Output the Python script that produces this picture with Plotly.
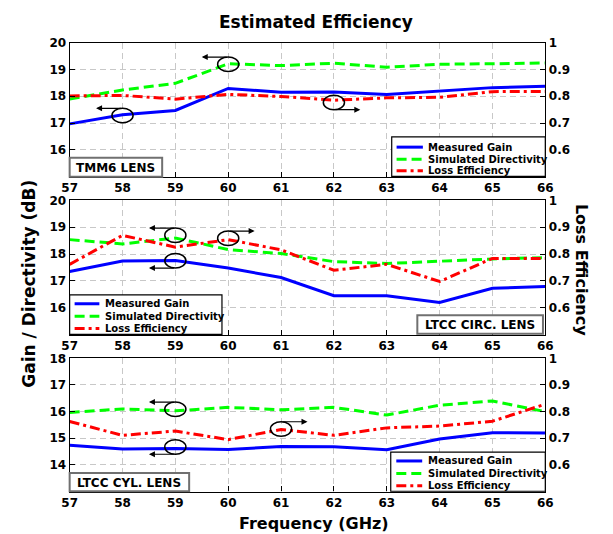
import plotly.graph_objects as go

W, H = 613, 534

freq = [57, 58, 59, 60, 61, 62, 63, 64, 65, 66]

p1_gain = [16.97, 17.31, 17.47, 18.29, 18.15, 18.16, 18.06, 18.20, 18.32, 18.37]
p1_dir = [17.90, 18.23, 18.48, 19.21, 19.14, 19.23, 19.08, 19.19, 19.21, 19.24]
p1_eff = [0.801, 0.803, 0.789, 0.807, 0.799, 0.785, 0.794, 0.796, 0.817, 0.818]

p2_gain = [17.35, 17.74, 17.76, 17.48, 17.13, 16.45, 16.45, 16.20, 16.73, 16.79]
p2_dir = [18.54, 18.38, 18.60, 18.17, 18.02, 17.72, 17.65, 17.74, 17.82, 17.87]
p2_eff = [0.762, 0.870, 0.826, 0.854, 0.816, 0.740, 0.762, 0.698, 0.784, 0.784]

p3_gain = [14.74, 14.60, 14.62, 14.58, 14.69, 14.68, 14.57, 14.97, 15.21, 15.20]
p3_dir = [15.97, 16.10, 16.03, 16.16, 16.07, 16.16, 15.87, 16.24, 16.40, 16.00]
p3_eff = [0.763, 0.711, 0.727, 0.695, 0.733, 0.711, 0.739, 0.746, 0.764, 0.828]

panel_names = ["TMM6 LENS", "LTCC CIRC. LENS", "LTCC CYL. LENS"]
series_names = ["Measured Gain", "Simulated Directivity", "Loss Efficiency"]
left_ranges = [[15, 20], [15, 20], [13, 18]]
left_ticks = [[16, 17, 18, 19, 20], [16, 17, 18, 19, 20], [14, 15, 16, 17, 18]]
right_ticks = [0.6, 0.7, 0.8, 0.9, 1.0]
right_ticktext = ["0.6", "0.7", "0.8", "0.9", "1"]

# markers (ellipse centre x, y in left units, arrow direction, arrow at top/bottom)
markers = [
    [(60, 19.19, -1, 1), (58, 17.28, -1, 1), (62, 17.77, 1, -1)],
    [(59, 18.70, -1, 1), (60, 18.59, 1, 1), (59, 17.75, -1, -1)],
    [(59, 16.09, -1, 1), (61, 15.35, 1, 1), (59, 14.67, -1, -1)],
]

BLUE = "#0000ff"
GREEN = "#00ff00"
RED = "#ff0000"
COLORS = [BLUE, GREEN, RED]
DASHES = ["solid", "10px,5px", "10px,4px,3px,4px"]


def px(x):
    return x / W


def py(y):
    return 1 - y / H


x_left, x_right = 63.3, 551.7
panels_px = [(36, 172), (196, 332), (356, 491)]

fig = go.Figure()
layout = dict(
    width=W, height=H, autosize=False,
    margin=dict(l=0, r=0, t=0, b=0),
    paper_bgcolor="white", plot_bgcolor="white",
    font=dict(family="DejaVu Sans", size=12, color="black", weight="bold"),
    showlegend=False,
)
shapes = []
annotations = []

data = [(p1_gain, p1_dir, p1_eff), (p2_gain, p2_dir, p2_eff), (p3_gain, p3_dir, p3_eff)]

for i in range(3):
    n = i + 1
    xa = "x" if n == 1 else f"x{n}"
    yl = "y" if i == 0 else f"y{2*i+1}"
    yr = f"y{2*i+2}"
    top, bot = panels_px[i]
    dom_y = [py(bot), py(top)]
    gain, dr, eff = data[i]
    fig.add_trace(go.Scatter(x=freq, y=gain, mode="lines", name=series_names[0],
                             line=dict(color=BLUE, width=3), xaxis=xa, yaxis=yl))
    fig.add_trace(go.Scatter(x=freq, y=dr, mode="lines", name=series_names[1],
                             line=dict(color=GREEN, width=3, dash=DASHES[1]), xaxis=xa, yaxis=yl))
    fig.add_trace(go.Scatter(x=freq, y=eff, mode="lines", name=series_names[2],
                             line=dict(color=RED, width=3, dash=DASHES[2]), xaxis=xa, yaxis=yr))

    xkey = "xaxis" if n == 1 else f"xaxis{n}"
    ylkey = "yaxis" if i == 0 else f"yaxis{2*i+1}"
    yrkey = f"yaxis{2*i+2}"
    layout[xkey] = dict(
        domain=[px(x_left), px(x_right)], anchor=yl, range=[57, 66],
        tickvals=freq, ticks="inside", ticklen=5, tickcolor="black",
        showline=True, linecolor="black", linewidth=1.2, mirror=True,
        showgrid=True, gridcolor="#c8c8c8", griddash="6px,4px", gridwidth=1,
        zeroline=False, tickfont=dict(size=12),
    )
    layout[ylkey] = dict(
        domain=dom_y, anchor=xa, range=left_ranges[i],
        tickvals=left_ticks[i], ticks="inside", ticklen=5, tickcolor="black",
        showline=True, linecolor="black", linewidth=1.2,
        showgrid=True, gridcolor="#c8c8c8", griddash="6px,4px", gridwidth=1,
        zeroline=False, tickfont=dict(size=12),
    )
    layout[yrkey] = dict(
        domain=dom_y, anchor=xa, overlaying=yl, side="right", range=[0.5, 1.0],
        tickvals=right_ticks, ticktext=right_ticktext, ticks="inside", ticklen=5,
        tickcolor="black", showline=True, linecolor="black", linewidth=1.2,
        showgrid=False, zeroline=False, tickfont=dict(size=12),
    )

    # ellipses and arrows
    for (cx, cy, d, side) in markers[i]:
        hw, hh = 0.2, 0.27
        shapes.append(dict(type="circle", xref=xa, yref=yl, x0=cx - hw, x1=cx + hw,
                           y0=cy - hh, y1=cy + hh, line=dict(color="black", width=1.5),
                           layer="above"))
        ay = cy + side * hh
        annotations.append(dict(x=cx + d * 0.5, y=ay, ax=cx, ay=ay, xref=xa, yref=yl,
                                axref=xa, ayref=yl, text="", showarrow=True,
                                arrowhead=2, arrowsize=1, arrowwidth=1.2,
                                arrowcolor="black"))

# legends (manual boxes)
legend_boxes = [
    (394, 131.7, 551.7, 171.7, [142, 154.3, 166], 399, 426, 429),
    (63.3, 291.7, 219.7, 331.7, [300.7, 313.3, 325.7], 68.4, 93.8, 97.7),
    (393, 451, 551.7, 490.7, [460, 472.7, 485], 398.7, 425.3, 428.8),
]
for (bx0, by0, bx1, by1, rows, sx0, sx1, tx) in legend_boxes:
    shapes.append(dict(type="rect", xref="paper", yref="paper", x0=px(bx0), x1=px(bx1),
                       y0=py(by1), y1=py(by0), fillcolor="white",
                       line=dict(color="black", width=1.2), layer="above"))
    for k in range(3):
        shapes.append(dict(type="line", xref="paper", yref="paper", x0=px(sx0), x1=px(sx1),
                           y0=py(rows[k]), y1=py(rows[k]),
                           line=dict(color=COLORS[k], width=3, dash=DASHES[k]),
                           layer="above"))
        annotations.append(dict(x=px(tx), y=py(rows[k]), xref="paper", yref="paper",
                                text=series_names[k], showarrow=False, xanchor="left",
                                yanchor="middle", font=dict(size=10)))

# panel name boxes
name_boxes = [
    (63.3, 152.7, 158.3, 172),
    (420.3, 312.3, 549.3, 331),
    (63.3, 472.3, 186, 490.7),
]
for k, (bx0, by0, bx1, by1) in enumerate(name_boxes):
    shapes.append(dict(type="rect", xref="paper", yref="paper", x0=px(bx0), x1=px(bx1),
                       y0=py(by1), y1=py(by0), fillcolor="white",
                       line=dict(color="#707070", width=2), layer="above"))
    annotations.append(dict(x=px((bx0 + bx1) / 2), y=py((by0 + by1) / 2 + 0.5),
                            xref="paper", yref="paper", text=panel_names[k],
                            showarrow=False, xanchor="center", yanchor="middle",
                            font=dict(size=12)))

# titles
annotations.append(dict(x=px(316.6), y=py(15), xref="paper", yref="paper",
                        text="Estimated Efficiency", showarrow=False,
                        xanchor="center", yanchor="middle", font=dict(size=17)))
annotations.append(dict(x=px(313.7), y=py(523), xref="paper", yref="paper",
                        text="Frequency (GHz)", showarrow=False,
                        xanchor="center", yanchor="middle", font=dict(size=16)))
annotations.append(dict(x=px(22), y=py(280), xref="paper", yref="paper",
                        text="Gain / Directivity (dB)", showarrow=False, textangle=-90,
                        xanchor="center", yanchor="middle", font=dict(size=17)))
annotations.append(dict(x=px(589), y=py(266), xref="paper", yref="paper",
                        text="Loss Efficiency", showarrow=False, textangle=90,
                        xanchor="center", yanchor="middle", font=dict(size=16)))

layout["shapes"] = shapes
layout["annotations"] = annotations
fig.update_layout(**layout)
fig.write_html("out.html")
